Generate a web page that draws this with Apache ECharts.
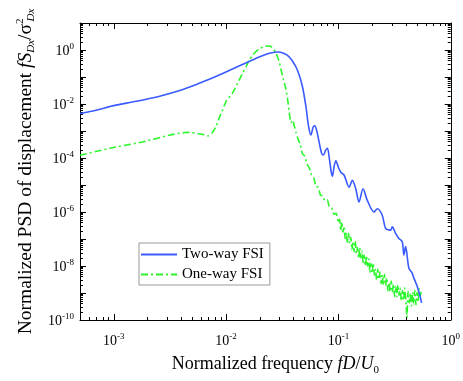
<!DOCTYPE html>
<html>
<head>
<meta charset="utf-8">
<script src="https://cdn.jsdelivr.net/npm/echarts@6/dist/echarts.min.js"></script>
<style>
html,body{margin:0;padding:0;background:#fff;}
#c{width:463px;height:381px;}
</style>
</head>
<body>
<div id="c"></div>
<script>
// log10 of normalized frequency and log10 of normalized PSD
var twoWayLogF = [-3.301,-3.15,-3.0,-2.8,-2.6,-2.45,-2.3,-2.15,-2.03,-1.9,-1.79,-1.70,-1.63,-1.57,-1.54,-1.50,-1.46,-1.43,-1.40,-1.378,-1.35,-1.32,-1.29,-1.265,-1.245,-1.225,-1.21,-1.19,-1.17,-1.15,-1.133,-1.115,-1.098,-1.08,-1.065,-1.053,-1.038,-1.023,-1.0,-0.979,-0.95,-0.905,-0.876,-0.846,-0.817,-0.781,-0.743,-0.683,-0.654,-0.610,-0.580,-0.535,-0.521,-0.491,-0.462,-0.432,-0.417,-0.402,-0.373,-0.344,-0.328,-0.299,-0.269,-0.260];
var twoWayLogPSD = [-2.35,-2.22,-2.06,-1.90,-1.72,-1.55,-1.33,-1.08,-0.87,-0.62,-0.42,-0.25,-0.14,-0.085,-0.075,-0.10,-0.18,-0.30,-0.47,-0.63,-0.92,-1.36,-2.08,-2.85,-3.15,-2.85,-2.81,-3.05,-3.45,-3.82,-3.89,-3.72,-3.64,-4.05,-4.50,-4.67,-4.30,-4.10,-4.35,-4.53,-4.63,-5.08,-4.83,-5.14,-5.63,-5.14,-5.57,-6.00,-5.88,-6.12,-6.61,-6.67,-6.55,-6.79,-6.98,-7.10,-7.59,-7.28,-8.08,-8.26,-8.45,-8.75,-9.18,-9.37];

var oneWayLogF = [-3.301,-3.035,-2.739,-2.50,-2.35,-2.24,-2.16,-2.12,-2.088,-2.06,-2.029,-2.0,-1.941,-1.90,-1.852,-1.82,-1.793,-1.76,-1.733,-1.70,-1.66,-1.62,-1.60,-1.58,-1.556,-1.53,-1.511,-1.49,-1.467,-1.45,-1.438,-1.423,-1.408,-1.393,-1.378,
-1.36,-1.34,-1.32,-1.30,-1.28,-1.26,-1.24,-1.22,-1.20,-1.18,-1.16,-1.14,-1.12,-1.10,-1.08,-1.06,-1.04,-1.02,-1.00,
-0.99,-0.98,-0.97,-0.96,-0.95,-0.94,-0.93,-0.92,-0.91,-0.90,-0.89,-0.88,-0.87,-0.86,-0.85,-0.84,-0.83,-0.82,-0.81,-0.80,
-0.79,-0.78,-0.77,-0.76,-0.75,-0.74,-0.73,-0.72,-0.71,-0.70,-0.69,-0.68,-0.67,-0.66,-0.65,-0.64,-0.63,-0.62,-0.61,-0.60,
-0.59,-0.58,-0.57,-0.56,-0.55,-0.54,-0.53,-0.52,-0.51,-0.50,-0.49,-0.48,-0.47,-0.46,-0.45,-0.44,-0.43,-0.42,-0.41,-0.40,
-0.39,-0.38,-0.37,-0.36,-0.35,-0.34,-0.33,-0.32,-0.31,-0.30,-0.29,-0.28,-0.27,-0.265];
var oneWayLogPSD = [-3.90,-3.64,-3.40,-3.15,-3.05,-3.10,-3.18,-3.05,-2.81,-2.50,-2.20,-1.90,-1.58,-1.25,-0.85,-0.60,-0.36,-0.18,-0.05,0.05,0.13,0.15,0.13,0.04,-0.11,-0.40,-0.73,-1.10,-1.46,-1.90,-2.32,-2.69,-2.60,-2.81,-3.05,
-3.30,-3.50,-3.85,-3.92,-4.22,-4.36,-4.62,-4.72,-5.05,-5.08,-5.38,-5.40,-5.58,-5.55,-5.82,-5.85,-6.08,-6.05,-6.40,
-6.27,-6.69,-6.38,-6.75,-6.53,-6.99,-6.77,-7.15,-6.79,-7.15,-6.94,-7.40,-7.09,-7.47,-7.07,-7.52,-7.32,-7.73,-7.33,-7.70,
-7.45,-7.91,-7.59,-8.00,-7.63,-8.00,-7.74,-8.24,-7.91,-8.26,-7.89,-8.34,-8.12,-8.52,-8.12,-8.50,-8.22,-8.66,-8.33,-8.72,
-8.31,-8.72,-8.44,-8.92,-8.62,-8.95,-8.56,-8.97,-8.67,-9.13,-8.76,-9.14,-8.71,-9.09,-8.82,-9.29,-8.91,-9.28,-8.82,-9.24,
-9.90,-8.94,-9.37,-8.99,-9.48,-8.97,-9.41,-8.90,-9.44,-8.97,-9.33,-8.84,-9.10,-8.95];

var seriesNames = ['Two-way FSI', 'One-way FSI'];
var xTickExponents = [-3, -2, -1, 0];
var yTickExponents = [0, -2, -4, -6, -8, -10];

function toPairs(lf, lp) {
  var out = [];
  for (var i = 0; i < lf.length; i++) out.push([Math.pow(10, lf[i]), Math.pow(10, lp[i])]);
  return out;
}

var FONT = 'Liberation Serif';
function expOf(v) {
  var e = Math.log10(v), r = Math.round(e);
  return Math.abs(e - r) < 1e-4 ? r : null;
}
function xFmt(v) {
  var r = expOf(v);
  if (r === null || xTickExponents.indexOf(r) < 0) return '';
  return '{b|10}{sup|' + r + '}';
}
function yFmt(v) {
  var r = expOf(v);
  if (r === null || yTickExponents.indexOf(r) < 0) return '';
  return '{b|10}{sup|' + r + '}';
}
var labelRich = {
  b: {fontFamily: FONT, fontSize: 14, lineHeight: 16, verticalAlign: 'bottom', color: '#000'},
  sup: {fontFamily: FONT, fontSize: 9, lineHeight: 10, verticalAlign: 'top', color: '#000'}
};

function axisCommon(isX, showLabel) {
  var a = {
    type: 'log',
    logBase: 10,
    min: isX ? 5e-4 : 1e-10,
    max: isX ? 1 : 10,
    axisLine: {show: true, lineStyle: {color: '#000', width: 1}},
    axisTick: {show: true, inside: true, length: 6, lineStyle: {color: '#000', width: 1}},
    minorTick: {show: true, splitNumber: 9, length: 3, lineStyle: {color: '#000', width: 1}},
    splitLine: {show: false},
    minorSplitLine: {show: false},
    axisLabel: {
      show: showLabel,
      interval: 0,
      margin: isX ? 12 : 6,
      formatter: isX ? xFmt : yFmt,
      rich: labelRich,
      color: '#000'
    }
  };
  if (isX) a.splitNumber = 3; else a.interval = 1;
  return a;
}

var x0 = axisCommon(true, true);
x0.position = 'bottom';
x0.name = '{n|Normalized frequency }{i|fD}{n|/}{i|U}{s|0}';
x0.nameLocation = 'middle';
x0.nameGap = 33;
x0.nameTextStyle = {
  padding: [0, 0, 0, 20],
  rich: {
    n: {fontFamily: FONT, fontSize: 18, lineHeight: 20, verticalAlign: 'bottom', color: '#000'},
    i: {fontFamily: FONT, fontSize: 18, fontStyle: 'italic', lineHeight: 20, verticalAlign: 'bottom', color: '#000'},
    s: {fontFamily: FONT, fontSize: 11, lineHeight: 12, verticalAlign: 'bottom', color: '#000', padding: [0, 0, -3, 0]}
  }
};
var x1 = axisCommon(true, false);
x1.position = 'top';

var y0 = axisCommon(false, true);
y0.position = 'left';
y0.name = '{n|Normalized PSD of displacement }{i|fS}{s|Dx}{n|/}{n|σ}{sp|2}{s2|Dx}';
y0.nameLocation = 'middle';
y0.nameGap = 43;
y0.nameRotate = 90;
y0.nameTextStyle = {
  rich: {
    n: {fontFamily: FONT, fontSize: 19.5, lineHeight: 22, verticalAlign: 'middle', color: '#000'},
    i: {fontFamily: FONT, fontSize: 19.5, fontStyle: 'italic', lineHeight: 22, verticalAlign: 'middle', color: '#000'},
    s: {fontFamily: FONT, fontSize: 11, fontStyle: 'italic', lineHeight: 12, verticalAlign: 'bottom', color: '#000'},
    s2: {fontFamily: FONT, fontSize: 11, fontStyle: 'italic', lineHeight: 12, verticalAlign: 'bottom', color: '#000', padding: [0, 0, 0, -3]},
    sp: {fontFamily: FONT, fontSize: 11, lineHeight: 12, verticalAlign: 'top', color: '#000'}
  }
};
var y1 = axisCommon(false, false);
y1.position = 'right';

var chart = echarts.init(document.getElementById('c'), null, {renderer: 'canvas'});
chart.setOption({
  animation: false,
  backgroundColor: '#fff',
  grid: {left: 80, right: 10, top: 23, bottom: 59, containLabel: false},
  xAxis: [x0, x1],
  yAxis: [y0, y1],
  legend: {
    show: true,
    orient: 'vertical',
    left: 139,
    top: 243,
    itemWidth: 36,
    itemHeight: 10,
    itemGap: 5,
    padding: [4, 6, 3, 1],
    borderColor: '#999',
    borderWidth: 1,
    backgroundColor: '#fff',
    itemStyle: {opacity: 0},
    textStyle: {fontFamily: FONT, fontSize: 15, color: '#000'},
    data: seriesNames
  },
  series: [
    {
      name: seriesNames[0],
      type: 'line',
      xAxisIndex: 0, yAxisIndex: 0,
      data: toPairs(twoWayLogF, twoWayLogPSD),
      showSymbol: false,
      symbol: 'none',
      smooth: 0.3,
      lineStyle: {color: '#3A5BFF', width: 1.6},
      itemStyle: {color: '#3A5BFF'},
      z: 3
    },
    {
      name: seriesNames[1],
      type: 'line',
      xAxisIndex: 0, yAxisIndex: 0,
      data: toPairs(oneWayLogF, oneWayLogPSD),
      showSymbol: false,
      symbol: 'none',
      smooth: 0.2,
      lineStyle: {color: '#2CF52C', width: 1.6, type: [7, 3, 2, 3]},
      itemStyle: {color: '#2CF52C'},
      z: 2
    }
  ]
});
</script>
</body>
</html>
